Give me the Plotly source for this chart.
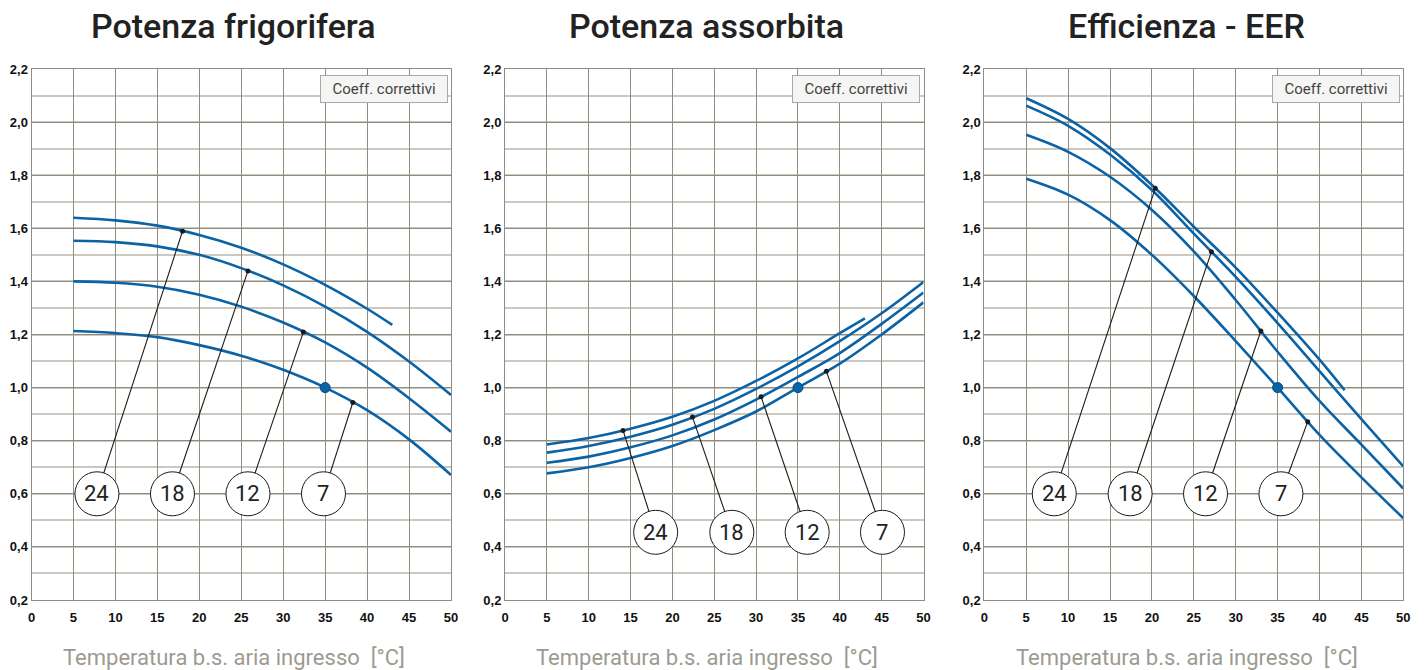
import numpy as np
import plotly.graph_objects as go

# Water outlet temperatures (curve labels)
water_temps = [24, 18, 12, 7]

# Air inlet temperature points
t_full = [5, 10, 15, 20, 25, 30, 35, 40, 45, 50]
t_short = [5, 10, 15, 20, 25, 30, 35, 40, 43]

# Potenza frigorifera (cooling capacity coefficients)
frig_24 = [1.640, 1.630, 1.610, 1.575, 1.527, 1.464, 1.387, 1.297, 1.236]
frig_18 = [1.553, 1.548, 1.532, 1.500, 1.450, 1.385, 1.305, 1.210, 1.098, 0.972]
frig_12 = [1.400, 1.395, 1.380, 1.350, 1.305, 1.245, 1.170, 1.075, 0.960, 0.834]
frig_7 = [1.213, 1.205, 1.190, 1.160, 1.120, 1.067, 1.000, 0.915, 0.805, 0.671]

# Potenza assorbita (absorbed power coefficients)
ass_24 = [0.786, 0.810, 0.845, 0.890, 0.950, 1.025, 1.110, 1.205, 1.261]
ass_18 = [0.755, 0.780, 0.815, 0.860, 0.920, 0.995, 1.080, 1.175, 1.280, 1.398]
ass_12 = [0.717, 0.740, 0.775, 0.820, 0.880, 0.955, 1.040, 1.130, 1.240, 1.358]
ass_7 = [0.677, 0.700, 0.735, 0.780, 0.840, 0.910, 1.000, 1.090, 1.200, 1.321]

# Efficienza - EER coefficients
eer_24 = [2.090, 2.012, 1.902, 1.763, 1.606, 1.452, 1.282, 1.105, 0.990]
eer_18 = [2.062, 1.986, 1.878, 1.744, 1.580, 1.417, 1.243, 1.062, 0.881, 0.703]
eer_12 = [1.952, 1.888, 1.794, 1.669, 1.513, 1.330, 1.135, 0.950, 0.785, 0.620]
eer_7 = [1.787, 1.727, 1.631, 1.500, 1.345, 1.175, 1.000, 0.822, 0.662, 0.508]

# where the leader lines touch each curve (x) and where the circles sit
frig_label_x = [18.0, 25.8, 32.4, 38.3]
ass_label_x = [14.1, 22.4, 30.6, 38.4]
eer_label_x = [20.4, 27.1, 33.0, 38.6]
frig_circle_x = [7.8, 16.8, 25.8, 34.8]
ass_circle_x = [18.0, 27.1, 36.1, 45.1]
eer_circle_x = [8.35, 17.4, 26.4, 35.4]
circle_y = [0.6, 0.455, 0.6]

titles = ["Potenza frigorifera", "Potenza assorbita", "Efficienza - EER"]
x_title = "Temperatura b.s. aria ingresso \u00a0[°C]"
x_ticks = list(range(0, 51, 5))
y_ticks = [round(0.2 + 0.2 * i, 1) for i in range(11)]

panels = [
    [frig_24, frig_18, frig_12, frig_7],
    [ass_24, ass_18, ass_12, ass_7],
    [eer_24, eer_18, eer_12, eer_7],
]
label_xs = [frig_label_x, ass_label_x, eer_label_x]
circle_xs = [frig_circle_x, ass_circle_x, eer_circle_x]

W, H = 1427, 670
x_px = [(31.5, 451.0), (505.0, 923.5), (984.3, 1403.3)]
y_dom = [1 - 600 / H, 1 - 69 / H]
title_px = [233, 706, 1186]

BLUE = "#0b63a6"
GRID = "#8f8c82"
MINOR = "#cbc8c0"

fig = go.Figure()
shapes = []
annotations = []

for p, curves in enumerate(panels):
    xr = "x" if p == 0 else f"x{p + 1}"
    yr = "y" if p == 0 else f"y{p + 1}"

    for temp, vals in zip(water_temps, curves):
        xs = t_short if len(vals) == len(t_short) else t_full
        fig.add_trace(go.Scatter(
            x=xs, y=vals, xaxis=xr, yaxis=yr, mode="lines",
            line=dict(color=BLUE, width=2.6, shape="spline", smoothing=1.0),
            hoverinfo="skip", showlegend=False
        ))

    # leader lines + small dots + labelled circles
    for i, (temp, vals) in enumerate(zip(water_temps, curves)):
        xs = t_short if len(vals) == len(t_short) else t_full
        lx = label_xs[p][i]
        ly = float(np.interp(lx, xs, vals))
        cx = circle_xs[p][i]
        cy = circle_y[p]
        fig.add_trace(go.Scatter(
            x=[cx, lx], y=[cy, ly], xaxis=xr, yaxis=yr, mode="lines",
            line=dict(color="#1a1a1a", width=1.1),
            hoverinfo="skip", showlegend=False
        ))
        fig.add_trace(go.Scatter(
            x=[lx], y=[ly], xaxis=xr, yaxis=yr, mode="markers",
            marker=dict(color="#1a1a1a", size=5),
            hoverinfo="skip", showlegend=False
        ))
        shapes.append(dict(
            type="circle", xref=xr, yref=yr, xsizemode="pixel", ysizemode="pixel",
            xanchor=cx, yanchor=cy, x0=-22, x1=22, y0=-22, y1=22,
            line=dict(color="#1a1a1a", width=1), fillcolor="white", layer="above"
        ))
        annotations.append(dict(
            x=cx, y=cy, xref=xr, yref=yr, text=str(temp), showarrow=False,
            font=dict(family="Roboto", size=22, color="#222222")
        ))

    # nominal point
    fig.add_trace(go.Scatter(
        x=[35], y=[1.0], xaxis=xr, yaxis=yr, mode="markers",
        marker=dict(color=BLUE, size=10, line=dict(color="#084a7e", width=1)),
        hoverinfo="skip", showlegend=False
    ))

    x0, x1 = x_px[p]
    ax = dict(
        domain=[x0 / W, x1 / W], range=[0, 50], anchor=yr,
        tickvals=x_ticks, ticktext=[str(v) for v in x_ticks],
        tickfont=dict(family="Liberation Sans", size=13, color="#111111", weight="bold"),
        showgrid=True, gridcolor=GRID, gridwidth=1,
        showline=True, mirror=True, linecolor=GRID, linewidth=1,
        zeroline=False, ticks="", ticklabelstandoff=5,
        fixedrange=True, automargin=False
    )
    ay = dict(
        domain=y_dom, range=[0.2, 2.2], anchor=xr,
        tickvals=y_ticks, ticktext=[f"{v:.1f}".replace(".", ",") for v in y_ticks],
        tickfont=dict(family="Liberation Sans", size=13, color="#111111", weight="bold"),
        showgrid=True, gridcolor=GRID, gridwidth=1,
        minor=dict(dtick=0.1, tick0=0.2, showgrid=True, gridcolor=MINOR, gridwidth=1.5),
        showline=True, mirror=True, linecolor=GRID, linewidth=1,
        zeroline=False, ticks="", fixedrange=True, automargin=False
    )
    key = "" if p == 0 else str(p + 1)
    fig.layout["xaxis" + key] = ax
    fig.layout["yaxis" + key] = ay

    annotations.append(dict(
        x=title_px[p] / W, y=1 - 26 / H, xref="paper", yref="paper",
        text=titles[p], showarrow=False, xanchor="center", yanchor="middle",
        font=dict(family="Roboto", size=34, color="#222222", weight=500)
    ))
    annotations.append(dict(
        x=(title_px[p] + 1) / W, y=1 - 657 / H, xref="paper", yref="paper",
        text=x_title, showarrow=False, xanchor="center", yanchor="middle",
        font=dict(family="Roboto", size=22, color="#9d9a90")
    ))
    annotations.append(dict(
        x=49.6, y=2.176, xref=xr, yref=yr,
        text="\u00a0\u00a0Coeff. correttivi\u00a0\u00a0",
        showarrow=False, xanchor="right", yanchor="top",
        font=dict(family="Roboto", size=15, color="#444444"),
        bgcolor="#f5f5f3", bordercolor="#a9a9a9", borderwidth=1, borderpad=4
    ))

fig.update_layout(
    width=W, height=H,
    margin=dict(l=0, r=0, t=0, b=0),
    plot_bgcolor="white", paper_bgcolor="white",
    shapes=shapes, annotations=annotations,
    showlegend=False
)

fig.write_html("out.html", config={"displayModeBar": False},
               post_script="document.body.style.margin='0px';")
